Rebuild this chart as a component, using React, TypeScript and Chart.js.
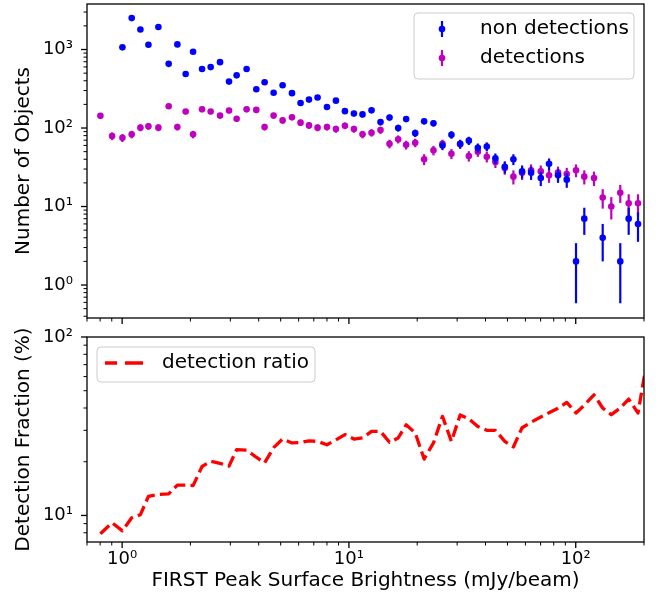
import React, { useEffect, useRef } from 'react';
import { Chart, registerables } from 'chart.js';

Chart.register(...registerables);

// ---------- data ----------
const binCenters = [
  0.802, 0.903, 1.003, 1.102, 1.204, 1.306, 1.445, 1.604, 1.752, 1.906,
  2.055, 2.251, 2.457, 2.702, 2.96, 3.198, 3.539, 3.905, 4.248, 4.655,
  5.1, 5.609, 6.12, 6.666, 7.273, 8.001, 8.764, 9.603, 10.52, 11.48,
  12.58, 13.78, 15.1, 16.49, 17.88, 19.6, 21.46, 23.59, 25.85, 28.31,
  30.93, 33.78, 37.01, 40.54, 44.24, 48.67, 53.11, 58.0, 63.55, 70.13,
  76.27, 83.56, 91.29, 100.3, 109.1, 120.4, 131.5, 143.5, 157.2, 171.2,
  188.2,
];

const nonDetections = [
  null, null, 1066, 2512, 1795, 1148, 1936, 657, 1161, 488,
  938, 564, 597, 690, 390, 469, 564, 312, 383, 281,
  351, 278, 208, 230, 245, 185, 223, 164, 153, 149,
  168, 119, 136, 100, 130, 86, 122, 115, 60, 82,
  63, 69, 56, 58, 41, 32, 40, 28, 27, 23,
  35, 25, 22, 2, 7, null, 4, null, 2, 7,
  6,
];

const detections = [
  143, 79, 75, 83, 101, 105, 101, 189, 103, 162,
  83, 173, 162, 144, 167, 131, 173, 170, 103, 144,
  125, 137, 117, 108, 101, 103, 97, 107, 97, 83,
  87, 94, 63, 72, 61, 65, 40, 52, 63, 47,
  62, 44, 50, 43, 37, 31, 24, 27, 29, 28,
  25, 27, 26, 29, 24, 23, 13, 10, 15, 11,
  11,
];

const ratioX = [
  0.802, 0.903, 1.003, 1.102, 1.204, 1.306, 1.445, 1.604, 1.752, 1.906,
  2.055, 2.251, 2.457, 2.702, 2.96, 3.198, 3.539, 3.905, 4.248, 4.655,
  5.1, 5.609, 6.12, 6.666, 7.273, 8.001, 8.764, 9.603, 10.52, 11.48,
  12.58, 13.78, 15.1, 16.49, 17.88, 19.6, 21.46, 23.59, 25.85, 28.31,
  30.93, 33.78, 37.01, 40.54, 44.24, 48.67, 53.11, 58.0, 63.55, 70.13,
  76.27, 83.56, 91.29, 100.3, 109.1, 120.4, 131.5, 143.5, 157.2, 171.2,
  188.2, 206,
];

const detectionRatio = [
  7.9, 9.1, 8.2, 9.7, 10.1, 12.8, 13.1, 13.2, 14.8, 14.8,
  14.7, 18.8, 20.1, 19.6, 18.9, 23.4, 23.2, 21.2, 19.7, 24.0,
  26.8, 25.5, 25.6, 26.2, 26.0, 24.9, 26.5, 28.4, 26.8, 27.2,
  29.6, 29.6, 25.7, 27.2, 32.2, 29.0, 20.7, 25.5, 35.9, 26.0,
  36.6, 34.8, 31.5, 30.0, 30.0, 26.0, 24.2, 31.0, 33.3, 35.6,
  37.6, 39.9, 43.0, 37.5, 41.5, 47.4, 40.0, 36.7, 40.0, 44.9,
  37.5, 73,
];

const xTickValues = [1, 10, 100];
const xTickLabels = ['10⁰', '10¹', '10²'];
const yTopTickValues = [1, 10, 100, 1000];
const yTopTickLabels = ['10⁰', '10¹', '10²', '10³'];
const yBotTickValues = [10, 100];
const yBotTickLabels = ['10¹', '10²'];

const seriesNames = ['non detections', 'detections'];
const ratioName = 'detection ratio';
const xTitle = 'FIRST Peak Surface Brightness (mJy/beam)';
const yTopTitle = 'Number of Objects';
const yBotTitle = 'Detection Fraction (%)';

// ---------- styling ----------
const FONT = "'DejaVu Sans', 'Liberation Sans', sans-serif";
const BLUE = '#0000ff';
const MAGENTA = '#bf00bf';
const RED = '#ff0000';
const TICK_SIZE = 18;
const LABEL_SIZE = 20;

function labelFor(values: number[], labels: string[], v: number) {
  const i = values.findIndex((t) => Math.abs(t - v) / t < 1e-6);
  return i >= 0 ? labels[i] : '';
}

function noPad(s: any) {
  s.paddingTop = 0;
  s.paddingBottom = 0;
  s.paddingLeft = 0;
  s.paddingRight = 0;
}

const errorBarPlugin = {
  id: 'errorBars',
  beforeDatasetDraw(chart: any, args: any) {
    const ds = chart.data.datasets[args.index];
    if (!ds.showErrors) return;
    const { ctx, chartArea: ca } = chart;
    const xs = chart.scales.x;
    const ys = chart.scales.y;
    ctx.save();
    ctx.beginPath();
    ctx.rect(ca.left, ca.top, ca.right - ca.left, ca.bottom - ca.top);
    ctx.clip();
    ctx.strokeStyle = ds.backgroundColor;
    ctx.lineWidth = 2.2;
    ds.data.forEach((p: any) => {
      if (p.y == null) return;
      const err = Math.sqrt(p.y);
      const px = xs.getPixelForValue(p.x);
      const top = ys.getPixelForValue(p.y + err);
      const lowV = p.y - err;
      const bot = lowV > 0 ? ys.getPixelForValue(lowV) : ca.bottom;
      ctx.beginPath();
      ctx.moveTo(px, top);
      ctx.lineTo(px, bot);
      ctx.stroke();
    });
    ctx.restore();
  },
};

function drawLogTicks(ctx: any, scale: any, ca: any, horizontal: boolean) {
  for (let e = -2; e <= 4; e++) {
    for (let m = 1; m <= 9; m++) {
      const v = m * Math.pow(10, e);
      if (v < scale.min * 0.99999 || v > scale.max * 1.00001) continue;
      const p = scale.getPixelForValue(v);
      const major = m === 1;
      const len = major ? 6 : 3.5;
      ctx.lineWidth = major ? 1.3 : 1.0;
      ctx.beginPath();
      if (horizontal) {
        ctx.moveTo(p, ca.bottom);
        ctx.lineTo(p, ca.bottom + len);
      } else {
        ctx.moveTo(ca.left, p);
        ctx.lineTo(ca.left - len, p);
      }
      ctx.stroke();
    }
  }
}

const axisDecorPlugin = {
  id: 'axisDecor',
  afterDatasetsDraw(chart: any) {
    const { ctx, chartArea: ca, scales } = chart;
    ctx.save();
    ctx.strokeStyle = '#000';
    drawLogTicks(ctx, scales.x, ca, true);
    drawLogTicks(ctx, scales.y, ca, false);
    ctx.lineWidth = 1.3;
    ctx.strokeRect(ca.left, ca.top, ca.right - ca.left, ca.bottom - ca.top);
    ctx.restore();
  },
};

function legendBox(ctx: any, x: number, y: number, w: number, h: number) {
  ctx.beginPath();
  ctx.roundRect(x, y, w, h, 4);
  ctx.fillStyle = 'rgba(255,255,255,0.8)';
  ctx.fill();
  ctx.strokeStyle = '#cccccc';
  ctx.lineWidth = 1;
  ctx.stroke();
}

const topLegendPlugin = {
  id: 'topLegend',
  afterDraw(chart: any) {
    const { ctx, chartArea: ca } = chart;
    const bx = ca.right - 230;
    const by = ca.top + 9;
    ctx.save();
    legendBox(ctx, bx, by, 220, 66);
    const colors = [BLUE, MAGENTA];
    const rows = [by + 16, by + 45];
    seriesNames.forEach((name, i) => {
      const cy = rows[i];
      const mx = bx + 28;
      ctx.strokeStyle = colors[i];
      ctx.lineWidth = 2.2;
      ctx.beginPath();
      ctx.moveTo(mx, cy - 8);
      ctx.lineTo(mx, cy + 8);
      ctx.stroke();
      ctx.fillStyle = colors[i];
      ctx.beginPath();
      ctx.arc(mx, cy, 3.3, 0, Math.PI * 2);
      ctx.fill();
      ctx.fillStyle = '#000';
      ctx.font = `${LABEL_SIZE}px ${FONT}`;
      ctx.textBaseline = 'middle';
      ctx.textAlign = 'left';
      ctx.fillText(name, bx + 66, cy);
    });
    ctx.restore();
  },
};

const botLegendPlugin = {
  id: 'botLegend',
  afterDraw(chart: any) {
    const { ctx, chartArea: ca } = chart;
    const bx = ca.left + 10;
    const by = ca.top + 10;
    ctx.save();
    legendBox(ctx, bx, by, 218, 35);
    const cy = by + 16;
    ctx.strokeStyle = RED;
    ctx.lineWidth = 3.3;
    ctx.lineCap = 'butt';
    ctx.beginPath();
    ctx.moveTo(bx + 8, cy);
    ctx.lineTo(bx + 20, cy);
    ctx.moveTo(bx + 28, cy);
    ctx.lineTo(bx + 46, cy);
    ctx.stroke();
    ctx.fillStyle = '#000';
    ctx.font = `${LABEL_SIZE}px ${FONT}`;
    ctx.textBaseline = 'middle';
    ctx.textAlign = 'left';
    ctx.fillText(ratioName, bx + 65, cy);
    ctx.restore();
  },
};

const tickFont = { family: FONT, size: TICK_SIZE };
const titleFont = { family: FONT, size: LABEL_SIZE };

export default function App() {
  const topRef = useRef<HTMLCanvasElement>(null);
  const botRef = useRef<HTMLCanvasElement>(null);

  useEffect(() => {
    const topChart = new Chart(topRef.current as HTMLCanvasElement, {
      type: 'scatter',
      data: {
        datasets: [
          {
            label: seriesNames[0],
            data: binCenters.map((x, i) => ({ x, y: nonDetections[i] })),
            backgroundColor: BLUE,
            borderColor: BLUE,
            pointRadius: 3.3,
            pointBorderWidth: 0,
            showErrors: true,
          } as any,
          {
            label: seriesNames[1],
            data: binCenters.map((x, i) => ({ x, y: detections[i] })),
            backgroundColor: MAGENTA,
            borderColor: MAGENTA,
            pointRadius: 3.3,
            pointBorderWidth: 0,
            showErrors: true,
          } as any,
        ],
      },
      options: {
        animation: false,
        responsive: false,
        devicePixelRatio: 1,
        events: [],
        layout: { padding: { top: 1, right: 17, left: 0, bottom: 0 } },
        plugins: { legend: { display: false }, tooltip: { enabled: false } },
        scales: {
          x: {
            type: 'logarithmic',
            min: 0.7,
            max: 200,
            grid: { display: false, drawTicks: false },
            border: { display: false },
            ticks: { display: false },
            afterFit: (s: any) => { s.height = 7; noPad(s); },
          },
          y: {
            type: 'logarithmic',
            min: 0.38,
            max: 3800,
            grid: { display: false, drawTicks: false },
            border: { display: false },
            afterBuildTicks: (s: any) => {
              s.ticks = yTopTickValues.map((v) => ({ value: v }));
            },
            ticks: {
              autoSkip: false,
              padding: 14,
              color: '#000',
              font: tickFont,
              callback: (v: any) => labelFor(yTopTickValues, yTopTickLabels, Number(v)),
            },
            title: {
              display: true,
              text: yTopTitle,
              color: '#000',
              font: titleFont,
              padding: { top: 12, bottom: 0 },
            },
            afterFit: (s: any) => { s.width = 87; noPad(s); },
          },
        },
      } as any,
      plugins: [errorBarPlugin, axisDecorPlugin, topLegendPlugin],
    });

    const botChart = new Chart(botRef.current as HTMLCanvasElement, {
      type: 'line',
      data: {
        datasets: [
          {
            label: ratioName,
            data: ratioX.map((x, i) => ({ x, y: detectionRatio[i] })),
            borderColor: RED,
            backgroundColor: RED,
            borderWidth: 3.3,
            borderDash: [12, 5.2],
            borderCapStyle: 'butt',
            borderJoinStyle: 'round',
            pointRadius: 0,
            fill: false,
            tension: 0,
            clip: 0,
          } as any,
        ],
      },
      options: {
        animation: false,
        responsive: false,
        devicePixelRatio: 1,
        events: [],
        layout: { padding: { top: 15, right: 17, left: 0, bottom: 0 } },
        plugins: { legend: { display: false }, tooltip: { enabled: false } },
        scales: {
          x: {
            type: 'logarithmic',
            min: 0.7,
            max: 200,
            grid: { display: false, drawTicks: false },
            border: { display: false },
            afterBuildTicks: (s: any) => {
              s.ticks = xTickValues.map((v) => ({ value: v }));
            },
            ticks: {
              autoSkip: false,
              maxRotation: 0,
              padding: 7,
              color: '#000',
              font: tickFont,
              callback: (v: any) => labelFor(xTickValues, xTickLabels, Number(v)),
            },
            title: {
              display: true,
              text: xTitle,
              color: '#000',
              font: titleFont,
              padding: { top: 0, bottom: 11 },
            },
            afterFit: (s: any) => { s.height = 62; noPad(s); },
          },
          y: {
            type: 'logarithmic',
            min: 7.1,
            max: 100,
            grid: { display: false, drawTicks: false },
            border: { display: false },
            afterBuildTicks: (s: any) => {
              s.ticks = yBotTickValues.map((v) => ({ value: v }));
            },
            ticks: {
              autoSkip: false,
              padding: 14,
              color: '#000',
              font: tickFont,
              callback: (v: any) => labelFor(yBotTickValues, yBotTickLabels, Number(v)),
            },
            title: {
              display: true,
              text: yBotTitle,
              color: '#000',
              font: titleFont,
              padding: { top: 12, bottom: 0 },
            },
            afterFit: (s: any) => { s.width = 87; noPad(s); },
          },
        },
      } as any,
      plugins: [axisDecorPlugin, botLegendPlugin],
    });

    return () => {
      topChart.destroy();
      botChart.destroy();
    };
  }, []);

  return (
    <div
      style={{
        position: 'absolute',
        left: 0,
        top: 0,
        width: 661,
        height: 604,
        background: '#ffffff',
        overflow: 'hidden',
      }}
    >
      <canvas
        ref={topRef}
        width={661}
        height={325}
        style={{ position: 'absolute', left: 0, top: 0, width: 661, height: 325 }}
      />
      <canvas
        ref={botRef}
        width={661}
        height={282}
        style={{ position: 'absolute', left: 0, top: 322, width: 661, height: 282 }}
      />
    </div>
  );
}
